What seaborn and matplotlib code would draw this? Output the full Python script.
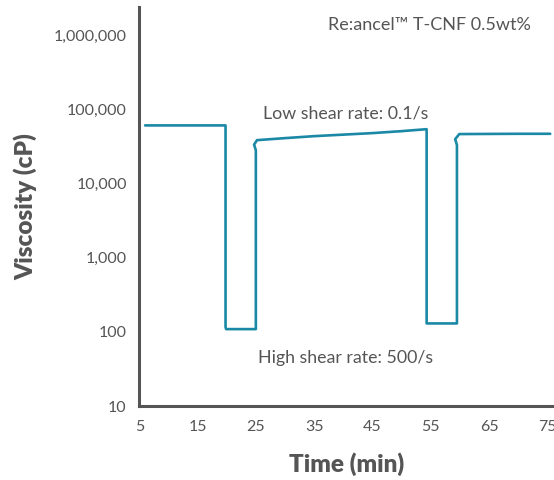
import matplotlib
matplotlib.use("Agg")
import matplotlib.pyplot as plt
import seaborn as sns
import pandas as pd
from matplotlib.ticker import NullLocator

# ---- data ----
time_min = [6.0, 19.8, 19.8, 19.9, 25.0, 25.0, 24.7, 25.2, 30, 35, 40, 45, 50, 54.3,
            54.3, 59.5, 59.5, 59.2, 59.9, 65, 70, 75.5]
viscosity = [60700, 60700, 116, 109, 109, 28000, 33500, 38400, 40900, 43500, 45600,
             47800, 50800, 54000, 130, 130, 33000, 39600, 46400, 46600, 46800, 46800]
x_ticks = [5, 15, 25, 35, 45, 55, 65, 75]
y_ticks = [10, 100, 1000, 10000, 100000, 1000000]
y_tick_labels = ["10", "100", "1,000", "10,000", "100,000", "1,000,000"]
title_text = "Re:ancel\u2122 T-CNF 0.5wt%"
low_text = "Low shear rate: 0.1/s"
high_text = "High shear rate: 500/s"

df = pd.DataFrame({"time": time_min, "visc": viscosity})

sns.set_theme(style="white")
plt.rcParams["font.family"] = ["Lato", "DejaVu Sans"]

gray = "#555555"
teal = "#1b89a6"

fig = plt.figure(figsize=(5.54, 4.80), dpi=100)
ax = fig.add_axes([0.2514, 0.154, 0.747, 0.831])

sns.lineplot(data=df, x="time", y="visc", sort=False, estimator=None,
             color=teal, linewidth=1.9, ax=ax)

ax.set_yscale("log")
ax.set_xlim(5, 76)
ax.set_ylim(10, 2.38e6)
ax.set_xticks(x_ticks)
ax.set_xticklabels([str(t) for t in x_ticks])
ax.set_yticks(y_ticks)
ax.set_yticklabels(y_tick_labels)
ax.yaxis.set_minor_locator(NullLocator())

for side in ["top", "right"]:
    ax.spines[side].set_visible(False)
for side in ["left", "bottom"]:
    ax.spines[side].set_color(gray)
    ax.spines[side].set_linewidth(2.2)

ax.tick_params(axis="x", direction="in", length=11.5, width=2.2, color=gray,
               labelcolor=gray, labelsize=11.5, pad=10)
ax.tick_params(axis="y", direction="in", length=6, width=2.2, color=gray,
               labelcolor=gray, labelsize=11.5, pad=9)

ax.set_xlabel("Time (min)", fontsize=17.5, fontweight="heavy", color=gray, labelpad=13)
ax.set_ylabel("Viscosity (cP)", fontsize=17.5, fontweight="heavy", color=gray, labelpad=12)

ax.text(54.8, 1.36e6, title_text, ha="center", va="center", fontsize=13, color=gray)
ax.text(40.4, 88900, low_text, ha="center", va="center", fontsize=12.8, color=gray)
ax.text(40.4, 44.4, high_text, ha="center", va="center", fontsize=12.8, color=gray)

fig.savefig("out.png", dpi=100)
